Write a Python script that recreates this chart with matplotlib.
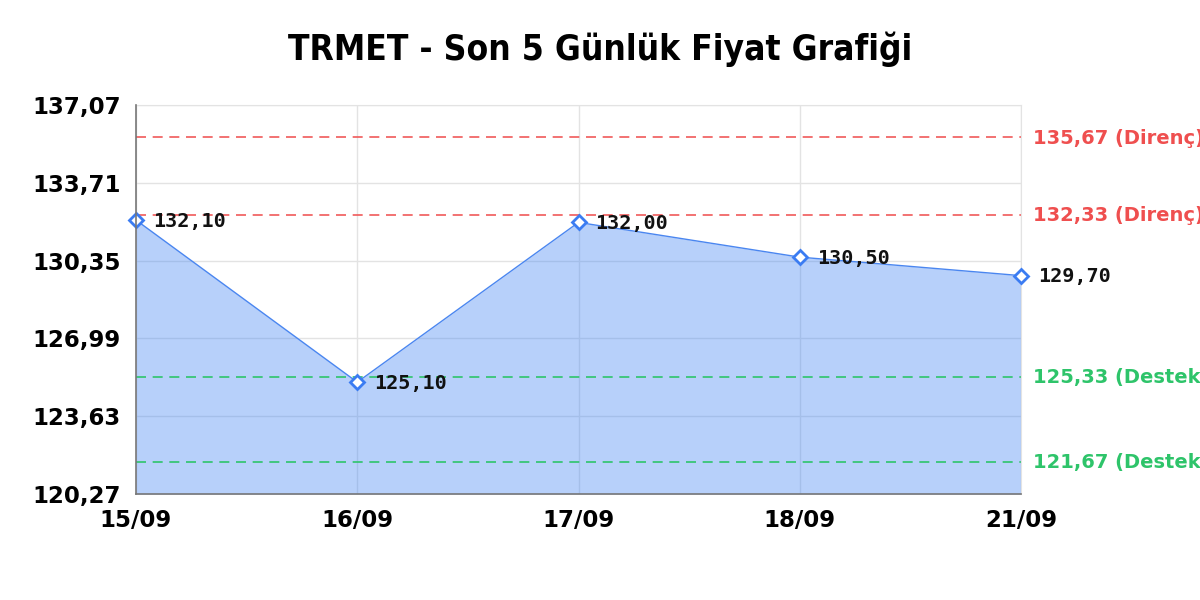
import matplotlib
matplotlib.use("Agg")
import matplotlib.pyplot as plt

dates = ["15/09", "16/09", "17/09", "18/09", "21/09"]
prices = [132.10, 125.10, 132.00, 130.50, 129.70]
price_labels = ["132,10", "125,10", "132,00", "130,50", "129,70"]
y_ticks = [120.27, 123.63, 126.99, 130.35, 133.71, 137.07]
y_tick_labels = ["120,27", "123,63", "126,99", "130,35", "133,71", "137,07"]
resistance = [135.67, 132.33]
resistance_labels = ["135,67 (Direnç)", "132,33 (Direnç)"]
support = [125.33, 121.67]
support_labels = ["125,33 (Destek)", "121,67 (Destek)"]
title = "TRMET - Son 5 Günlük Fiyat Grafiği"

plt.rcParams['font.family'] = ['DejaVu Sans']

fig = plt.figure(figsize=(12, 6), dpi=100)
ax = fig.add_axes([136/1200, 1 - 494/600, (1021-136)/1200, (494-105)/600])

x = list(range(len(dates)))
ymin, ymax = y_ticks[0], y_ticks[-1]
ax.set_xlim(0, len(dates) - 1)
ax.set_ylim(ymin, ymax)

ax.fill_between(x, prices, ymin, color="#4285f4", alpha=0.38, lw=0, zorder=1)
ax.plot(x, prices, color="#4a86f0", lw=1, zorder=3)
ax.plot(x, prices, ls="none", marker="D", ms=7, mfc="white", mec="#3b7cf2", mew=2, zorder=4, clip_on=False)

for xi, p, lab in zip(x, prices, price_labels):
    ax.annotate(lab, (xi, p), xytext=(17, -1), textcoords="offset pixels",
                ha="left", va="center", fontsize=14.5, fontweight="bold", family="DejaVu Sans Mono",
                color="#111111", zorder=5, annotation_clip=False)

for v, lab in zip(resistance, resistance_labels):
    ax.axhline(v, color="#f05a5a", ls=(0, (6, 4)), lw=1.2, zorder=2)
    ax.annotate(lab, (1, v), xycoords=("axes fraction", "data"), xytext=(12, -1), textcoords="offset pixels",
                ha="left", va="center", fontsize=14, fontweight="bold", color="#ef4f4f", annotation_clip=False)
for v, lab in zip(support, support_labels):
    ax.axhline(v, color="#2ec46a", ls=(0, (6, 4)), lw=1.2, zorder=2)
    ax.annotate(lab, (1, v), xycoords=("axes fraction", "data"), xytext=(12, -1), textcoords="offset pixels",
                ha="left", va="center", fontsize=14, fontweight="bold", color="#2ec46a", annotation_clip=False)

ax.set_xticks(x)
ax.set_xticklabels(dates, fontsize=16.5, fontweight="bold")
ax.set_yticks(y_ticks)
ax.set_yticklabels(y_tick_labels, fontsize=16.5, fontweight="bold")
ax.tick_params(length=0)
ax.tick_params(axis="x", pad=11)
ax.tick_params(axis="y", pad=11)
ax.grid(True, color="#e3e3e3", lw=1)
ax.set_axisbelow(True)
for s in ["top", "right"]:
    ax.spines[s].set_color("#e3e3e3")
for s in ["left", "bottom"]:
    ax.spines[s].set_color("#777777")
    ax.spines[s].set_linewidth(1.2)
    ax.spines[s].set_zorder(6)

fig.text(0.5, 1 - 49/600, title, ha="center", va="center", fontsize=25.3, fontweight="bold", fontstretch="condensed")

fig.savefig("out.png", dpi=100, facecolor="white")
